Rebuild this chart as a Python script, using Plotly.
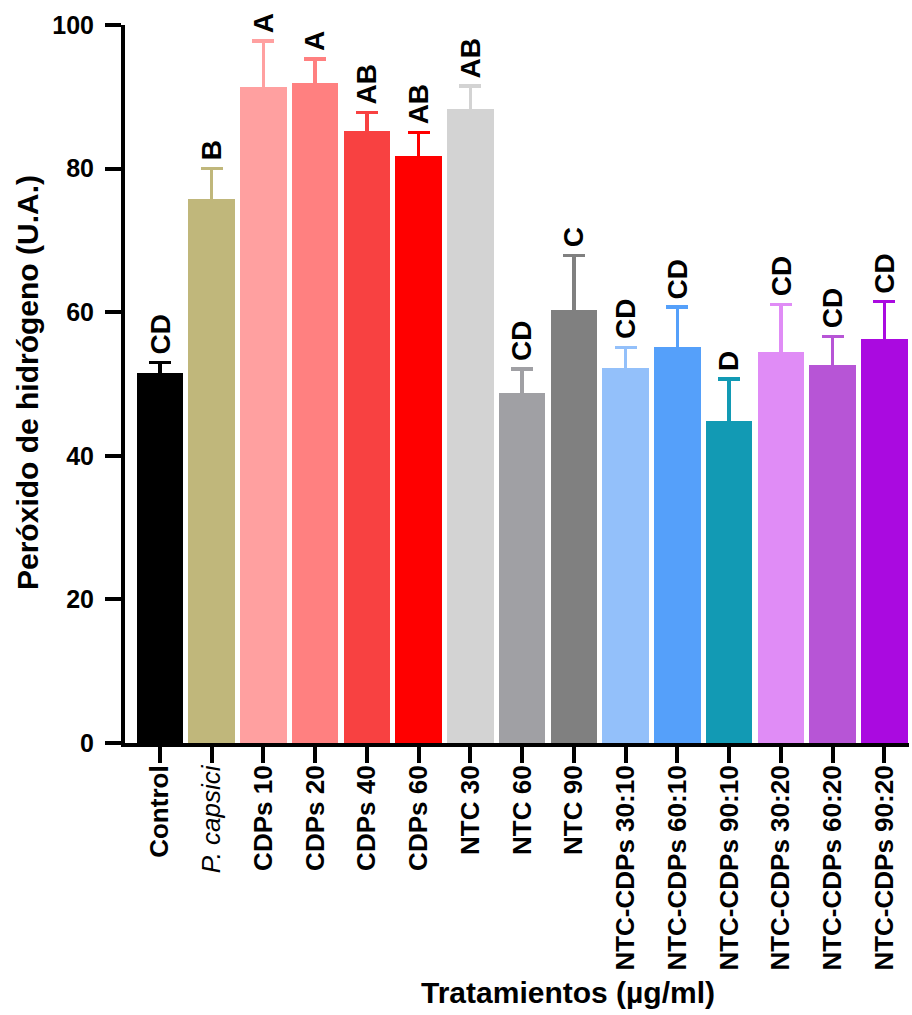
import plotly.graph_objects as go

categories = ["Control", "P. capsici", "CDPs 10", "CDPs 20", "CDPs 40", "CDPs 60",
              "NTC 30", "NTC 60", "NTC 90", "NTC-CDPs 30:10", "NTC-CDPs 60:10",
              "NTC-CDPs 90:10", "NTC-CDPs 30:20", "NTC-CDPs 60:20", "NTC-CDPs 90:20"]
tick_labels = ["<b>Control</b>", "<i>P. capsici</i>", "<b>CDPs 10</b>", "<b>CDPs 20</b>",
               "<b>CDPs 40</b>", "<b>CDPs 60</b>", "<b>NTC 30</b>", "<b>NTC 60</b>",
               "<b>NTC 90</b>", "<b>NTC-CDPs 30:10</b>", "<b>NTC-CDPs 60:10</b>",
               "<b>NTC-CDPs 90:10</b>", "<b>NTC-CDPs 30:20</b>", "<b>NTC-CDPs 60:20</b>",
               "<b>NTC-CDPs 90:20</b>"]
means = [51.5, 75.7, 91.3, 91.9, 85.3, 81.7, 88.3, 48.7, 60.3, 52.2, 55.2, 44.9, 54.5, 52.7, 56.2]
errors = [1.5, 4.3, 6.5, 3.4, 2.5, 3.3, 3.2, 3.4, 7.6, 2.9, 5.5, 5.8, 6.6, 3.9, 5.3]
letters = ["CD", "B", "A", "A", "AB", "AB", "AB", "CD", "C", "CD", "CD", "D", "CD", "CD", "CD"]
colors = ["#000000", "#C0B77B", "#FFA0A0", "#FF8080", "#F84141", "#FF0000", "#D3D3D3",
          "#A0A0A4", "#808080", "#93C0FA", "#55A0FA", "#129AB4", "#E08CF6", "#B755D6", "#AA0AE0"]
y_ticks = [0, 20, 40, 60, 80, 100]

FONT = "Liberation Sans, Arial, sans-serif"

fig = go.Figure()
xs = list(range(len(categories)))
for i in xs:
    fig.add_trace(go.Bar(
        x=[i], y=[means[i]], width=0.9,
        marker=dict(color=colors[i], line=dict(width=0)),
        error_y=dict(type="data", symmetric=True, array=[errors[i]],
                     color=colors[i], thickness=3.5, width=11),
        showlegend=False,
    ))

annotations = []
for i in xs:
    annotations.append(dict(
        x=i, y=means[i] + errors[i], xref="x", yref="y",
        text="<b>%s</b>" % letters[i], textangle=-90, showarrow=False,
        xanchor="center", yanchor="bottom", yshift=6,
        font=dict(family=FONT, size=28, color="black"),
    ))

L, R, T, B = 125, 3, 25, 272
W, H = 912, 1015
pw, ph = W - L - R, H - T - B


def px_to_paper(xp, yp):
    return (xp - L) / pw, (H - B - yp) / ph


tx, ty = px_to_paper(568, 992)
annotations.append(dict(
    x=tx, y=ty, xref="paper", yref="paper", text="<b>Tratamientos (µg/ml)</b>",
    showarrow=False, xanchor="center", yanchor="middle",
    font=dict(family=FONT, size=30, color="black"),
))
tx, ty = px_to_paper(27, 383)
annotations.append(dict(
    x=tx, y=ty, xref="paper", yref="paper", text="<b>Peróxido de hidrógeno (U.A.)</b>",
    textangle=-90, showarrow=False, xanchor="center", yanchor="middle",
    font=dict(family=FONT, size=30, color="black"),
))

fig.update_layout(
    width=W, height=H,
    margin=dict(l=L, r=R, t=T, b=B, pad=0, autoexpand=False),
    paper_bgcolor="white", plot_bgcolor="white",
    barmode="overlay", bargap=0,
    font=dict(family=FONT, color="black"),
    annotations=annotations,
    xaxis=dict(
        range=[-0.676, 14.477], tickmode="array", tickvals=xs, ticktext=tick_labels,
        tickangle=-90, tickfont=dict(family=FONT, size=26, color="black"),
        ticks="outside", ticklen=16, tickwidth=4, tickcolor="black",
        ticklabelstandoff=-8, automargin=False,
        showline=True, linecolor="black", linewidth=4, showgrid=False, zeroline=False,
    ),
    yaxis=dict(
        range=[0, 100], tickmode="array", tickvals=y_ticks,
        ticktext=["<b>%d</b>" % v for v in y_ticks],
        tickfont=dict(family=FONT, size=25, color="black"),
        ticks="outside", ticklen=16, tickwidth=4, tickcolor="black",
        ticklabelstandoff=6, automargin=False,
        showline=True, linecolor="black", linewidth=4, showgrid=False, zeroline=False,
    ),
)

fig.write_html("out.html", config={"displayModeBar": False},
               post_script="document.body.style.margin='0';")
